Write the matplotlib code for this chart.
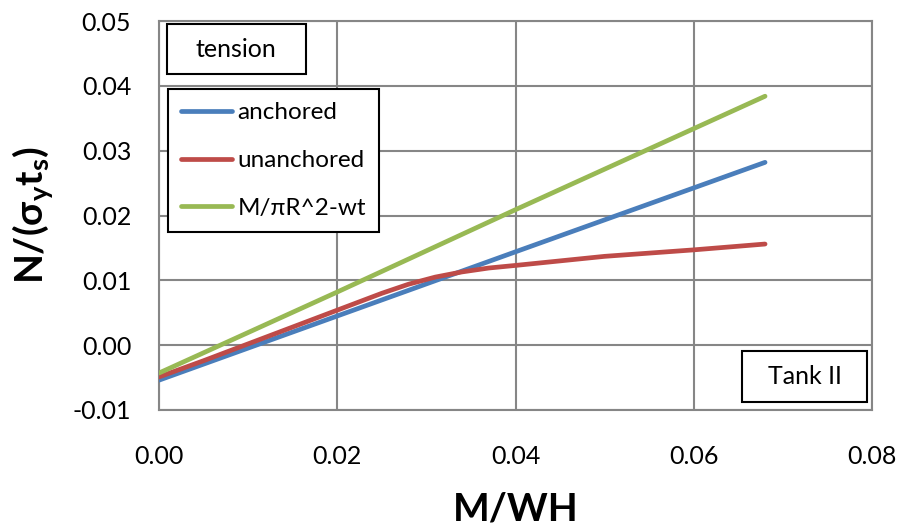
import matplotlib
matplotlib.use("Agg")
import matplotlib.pyplot as plt
from matplotlib.patches import Rectangle

# ── Data ──────────────────────────────────────────────────────────────────────
anch_x = [0.0, 0.02, 0.04, 0.068]
anch_y = [-0.0054, 0.0045, 0.0144, 0.0282]

unan_x = [0.0, 0.005, 0.01, 0.015, 0.02, 0.025, 0.028, 0.031, 0.034, 0.037,
          0.04, 0.045, 0.05, 0.055, 0.06, 0.068]
unan_y = [-0.0049, -0.0024, 0.0002, 0.0028, 0.0054, 0.0080, 0.0094, 0.0105,
          0.0113, 0.0119, 0.0123, 0.0130, 0.0137, 0.0142, 0.0147, 0.0156]

simp_x = [0.0, 0.02, 0.04, 0.068]
simp_y = [-0.0043, 0.0082, 0.0209, 0.0384]

x_ticks = [0.0, 0.02, 0.04, 0.06, 0.08]
y_ticks = [-0.01, 0.0, 0.01, 0.02, 0.03, 0.04, 0.05]

BLUE = "#4a7ebb"
RED = "#be4b48"
GREEN = "#98b954"
GRID = "#868686"

plt.rcParams["font.family"] = ["Lato", "DejaVu Sans"]
plt.rcParams["mathtext.fontset"] = "custom"
plt.rcParams["mathtext.rm"] = "Lato"
plt.rcParams["mathtext.bf"] = "Lato:bold"

fig = plt.figure(figsize=(9.04, 5.28), dpi=100)
ax = fig.add_axes([0.1759, 0.2235, 0.7887, 0.7367])

ax.plot(anch_x, anch_y, color=BLUE, lw=3.4, solid_capstyle="round", label="anchored", zorder=3)
ax.plot(unan_x, unan_y, color=RED, lw=3.4, solid_capstyle="round", label="unanchored", zorder=3)
ax.plot(simp_x, simp_y, color=GREEN, lw=3.4, solid_capstyle="round", label="M/πR^2-wt", zorder=3)

ax.set_xlim(0, 0.08)
ax.set_ylim(-0.01, 0.05)
ax.set_xticks(x_ticks)
ax.set_yticks(y_ticks)
ax.set_xticklabels([f"{v:.2f}" for v in x_ticks])
ax.set_yticklabels([f"{v:.2f}" for v in y_ticks])
ax.tick_params(length=0, labelsize=18)
ax.tick_params(axis="x", pad=25)
ax.tick_params(axis="y", pad=20)
ax.grid(True, color=GRID, lw=1.5, zorder=0)
for s in ax.spines.values():
    s.set_color(GRID)
    s.set_linewidth(1.5)

ax.set_xlabel("M/WH", fontsize=28, fontweight="bold", labelpad=17)
ax.set_ylabel(r"$\mathbf{N/(}\mathbf{\sigma}_{\mathbf{y}}\mathbf{t}_{\mathbf{s}}\mathbf{)}$",
              fontsize=28, labelpad=12)

leg = ax.legend(loc="upper left", bbox_to_anchor=(0.0126, 0.825), fontsize=17.5,
                frameon=True, fancybox=False, edgecolor="black", framealpha=1,
                handlelength=2.1, handletextpad=0.2, labelspacing=1.1,
                borderpad=0.55, borderaxespad=0)
leg.get_frame().set_linewidth(1.5)

# text boxes (axes coords)
for (x0, y0, x1, y1), label in [((0.0107, 0.8638, 0.2057, 0.9923), "tension"),
                                ((0.8177, 0.0206, 0.9930, 0.1517), "Tank II")]:
    ax.add_patch(Rectangle((x0, y0), x1 - x0, y1 - y0, transform=ax.transAxes,
                           facecolor="white", edgecolor="black", lw=1.5, zorder=5))
    ax.text((x0 + x1) / 2, (y0 + y1) / 2, label, transform=ax.transAxes,
            fontsize=18, ha="center", va="center", zorder=6)

fig.savefig("out.png", dpi=100)
